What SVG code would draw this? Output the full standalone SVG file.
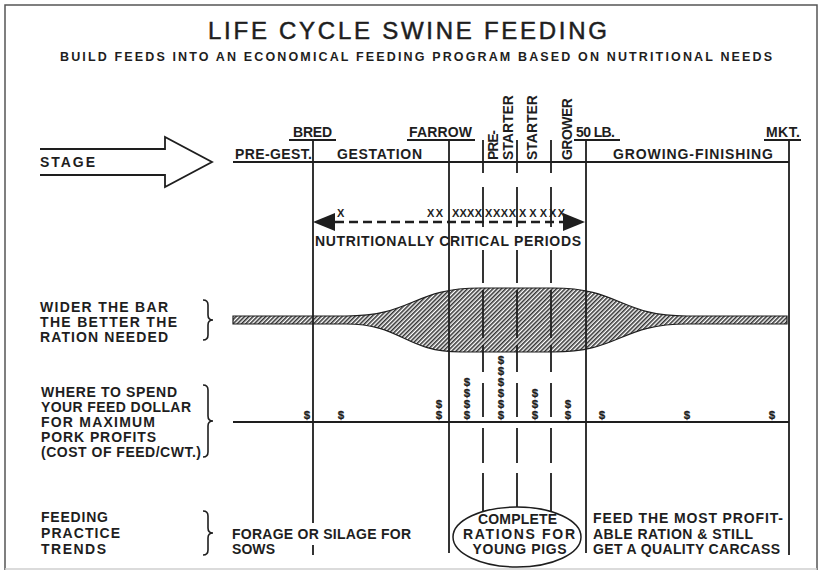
<svg xmlns="http://www.w3.org/2000/svg" width="825" height="573" viewBox="0 0 825 573">
<defs>
<pattern id="hatch" width="3" height="3" patternUnits="userSpaceOnUse" patternTransform="rotate(45)">
<rect width="3" height="3" fill="#ffffff"/>
<line x1="0.8" y1="0" x2="0.8" y2="3" stroke="#2a2a2a" stroke-width="1.5"/>
</pattern>
</defs>
<style>
text{font-family:"Liberation Sans",Arial,sans-serif;font-weight:bold;fill:#1e1e1e;font-size:14px}
.title{font-size:24px;font-weight:normal;stroke:#1e1e1e;stroke-width:0.5}
.sub{font-size:12.5px}
.xm{font-size:11px}
.dol{font-size:11.5px;text-anchor:middle;stroke:#1e1e1e;stroke-width:0.3}
.mid{text-anchor:middle}
.ln{stroke:#1e1e1e;stroke-width:1.8;fill:none}
.dash{stroke:#1e1e1e;stroke-width:1.8;fill:none}
.brace{stroke:#1e1e1e;stroke-width:1.6;fill:none}
.frame{stroke:#555;stroke-width:1.5;fill:none}
</style>
<rect width="825" height="573" fill="#ffffff"/>
<path class="frame" d="M5,570 V5 H817 V570"/>
<line x1="5" y1="569" x2="817" y2="569" stroke="#cfcfcf" stroke-width="1.5"/>

<g id="title">
<text class="title" x="208" y="39" textLength="399" lengthAdjust="spacing">LIFE CYCLE SWINE FEEDING</text>
<text class="sub" x="60" y="61" textLength="712" lengthAdjust="spacing">BUILD FEEDS INTO AN ECONOMICAL FEEDING PROGRAM BASED ON NUTRITIONAL NEEDS</text>
</g>

<g id="stage-arrow">
<path class="ln" d="M40,149 H165 V137 L212,162 L165,187 V175 H40" stroke-width="2"/>
<text x="40" y="167" textLength="55" lengthAdjust="spacing">STAGE</text>
</g>

<g id="bar">
<path d="M233,316 H346 C413,316 413,288 480,288 H553 C620,288 620,316 687,316 H787 V324 H687 C620,324 620,352 553,352 H461 C405,352 402,324 346,324 H233 Z" fill="url(#hatch)" stroke="#1e1e1e" stroke-width="1.2"/>
</g>

<g id="connectors">
<line class="ln" x1="233" y1="162" x2="789" y2="162" stroke-width="2"/>
<line class="ln" x1="233" y1="422" x2="789" y2="422"/>
<path class="ln" d="M313,140 V523 M313,545 V555"/>
<path class="ln" d="M449,140 V553"/>
<path class="ln" d="M586,140 V553"/>
<path class="ln" d="M789,140 V555"/>
<path class="dash" d="M483,140 V173 M483,187 V227 M483,250 V283 M483,290 V338 M483,345 V372 M483,383 V417 M483,428 V463 M483,473 V512"/>
<path class="dash" d="M517,140 V173 M517,187 V227 M517,250 V283 M517,290 V338 M517,345 V372 M517,383 V417 M517,428 V463 M517,473 V507"/>
<path class="dash" d="M551,140 V173 M551,187 V227 M551,250 V283 M551,290 V338 M551,345 V372 M551,383 V417 M551,428 V463 M551,473 V512"/>
<path class="ln" d="M289,140 H336 M407,140 H475 M574,140 H620 M764,140 H801"/>
</g>

<g id="stage-labels">
<text x="293" y="137" textLength="39" lengthAdjust="spacing">BRED</text>
<text x="409" y="137" textLength="63" lengthAdjust="spacing">FARROW</text>
<text x="576" y="137" textLength="39" lengthAdjust="spacing">50 LB.</text>
<text x="766" y="137" textLength="34" lengthAdjust="spacing">MKT.</text>
<text x="235" y="159" textLength="77" lengthAdjust="spacing">PRE-GEST.</text>
<text x="337" y="159" textLength="85" lengthAdjust="spacing">GESTATION</text>
<text x="613" y="159" textLength="160" lengthAdjust="spacing">GROWING-FINISHING</text>
<text transform="translate(498,160) rotate(-90)" font-size="13" textLength="30" lengthAdjust="spacing">PRE-</text>
<text transform="translate(513,160) rotate(-90)" textLength="65" lengthAdjust="spacing">STARTER</text>
<text transform="translate(537,160) rotate(-90)" textLength="65" lengthAdjust="spacing">STARTER</text>
<text transform="translate(572,160) rotate(-90)" textLength="62" lengthAdjust="spacing">GROWER</text>
</g>

<g id="critical-periods">
<line x1="335" y1="222" x2="563" y2="222" stroke="#1e1e1e" stroke-width="2.5" stroke-dasharray="9 5"/>
<polygon points="313,222 335,213 335,231" fill="#1e1e1e"/>
<polygon points="585,222 563,213 563,231" fill="#1e1e1e"/>
<text class="xm" x="337" y="217">X</text>
<text class="xm" x="427" y="217" textLength="16" lengthAdjust="spacing">XX</text>
<text class="xm" x="452" y="217" textLength="30" lengthAdjust="spacing">XXXX</text>
<text class="xm" x="485" y="217" textLength="31" lengthAdjust="spacing">XXXX</text>
<text class="xm" x="519" y="217" textLength="28" lengthAdjust="spacing">X X X</text>
<text class="xm" x="549" y="217" textLength="16" lengthAdjust="spacing">XX</text>
<text x="315" y="246" font-size="13.5" textLength="266" lengthAdjust="spacing">NUTRITIONALLY CRITICAL PERIODS</text>
</g>

<g id="label-bar">
<text x="40" y="312" textLength="128" lengthAdjust="spacing">WIDER THE BAR</text>
<text x="40" y="327" textLength="137" lengthAdjust="spacing">THE BETTER THE</text>
<text x="40" y="342" textLength="128" lengthAdjust="spacing">RATION NEEDED</text>
<path class="brace" d="M203,300 Q208,300 208,305 V315 Q208,320 213,320 Q208,320 208,325 V335 Q208,340 203,340"/>
</g>

<g id="label-dollar">
<text x="41" y="397" textLength="136" lengthAdjust="spacing">WHERE TO SPEND</text>
<text x="41" y="412" textLength="150" lengthAdjust="spacing">YOUR FEED DOLLAR</text>
<text x="41" y="427" textLength="114" lengthAdjust="spacing">FOR MAXIMUM</text>
<text x="41" y="442" textLength="115" lengthAdjust="spacing">PORK PROFITS</text>
<text x="41" y="457" textLength="160" lengthAdjust="spacing">(COST OF FEED/CWT.)</text>
<path class="brace" d="M203,385 Q208,385 208,390 V416 Q208,421 213,421 Q208,421 208,426 V452 Q208,457 203,457"/>
</g>

<g id="dollars">
<text class="dol" x="307" y="419">$</text>
<text class="dol" x="341" y="419">$</text>
<text class="dol" x="439" y="408">$</text><text class="dol" x="439" y="419">$</text>
<text class="dol" x="467" y="386">$</text><text class="dol" x="467" y="397">$</text><text class="dol" x="467" y="408">$</text><text class="dol" x="467" y="419">$</text>
<text class="dol" x="501" y="364">$</text><text class="dol" x="501" y="375">$</text><text class="dol" x="501" y="386">$</text><text class="dol" x="501" y="397">$</text><text class="dol" x="501" y="408">$</text><text class="dol" x="501" y="419">$</text>
<text class="dol" x="535" y="397">$</text><text class="dol" x="535" y="408">$</text><text class="dol" x="535" y="419">$</text>
<text class="dol" x="568" y="408">$</text><text class="dol" x="568" y="419">$</text>
<text class="dol" x="602" y="419">$</text>
<text class="dol" x="687" y="419">$</text>
<text class="dol" x="772" y="419">$</text>
</g>

<g id="label-feeding">
<text x="41" y="522" textLength="67" lengthAdjust="spacing">FEEDING</text>
<text x="41" y="538" textLength="79" lengthAdjust="spacing">PRACTICE</text>
<text x="41" y="554" textLength="65" lengthAdjust="spacing">TRENDS</text>
<path class="brace" d="M203,511 Q208,511 208,516 V528 Q208,533 213,533 Q208,533 208,538 V550 Q208,555 203,555"/>
</g>

<g id="trend-sows">
<text x="232" y="539" textLength="179" lengthAdjust="spacing">FORAGE OR SILAGE FOR</text>
<text x="232" y="554" textLength="43" lengthAdjust="spacing">SOWS</text>
</g>

<g id="trend-young-pigs">
<ellipse cx="517" cy="537" rx="64" ry="30" fill="none" stroke="#1e1e1e" stroke-width="1.5"/>
<text class="mid" x="517.5" y="524" font-size="13.5" textLength="79" lengthAdjust="spacing">COMPLETE</text>
<text class="mid" x="519" y="539" font-size="13.5" textLength="112" lengthAdjust="spacing">RATIONS FOR</text>
<text class="mid" x="519.5" y="554" font-size="13.5" textLength="94" lengthAdjust="spacing">YOUNG PIGS</text>
</g>

<g id="trend-finishing">
<text x="593" y="523" textLength="190" lengthAdjust="spacing">FEED THE MOST PROFIT-</text>
<text x="593" y="538.5" textLength="160" lengthAdjust="spacing">ABLE RATION &amp; STILL</text>
<text x="593" y="554" textLength="187" lengthAdjust="spacing">GET A QUALITY CARCASS</text>
</g>
</svg>
